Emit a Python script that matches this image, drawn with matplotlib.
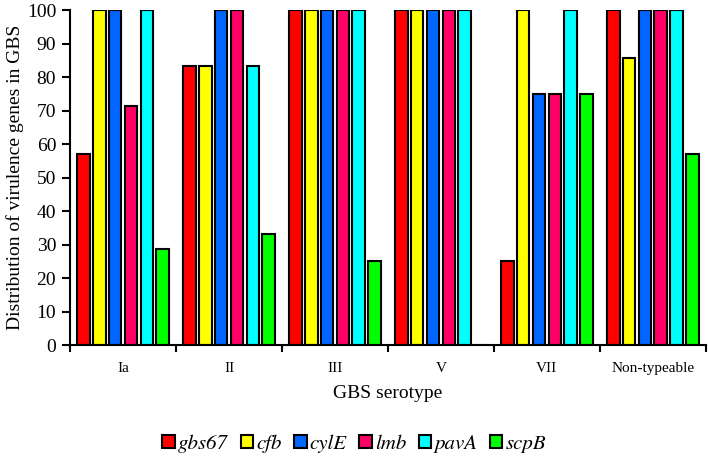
import matplotlib
matplotlib.use('Agg')
import matplotlib.pyplot as plt
import numpy as np

serotypes = ['Ia', 'II', 'III', 'V', 'VII', 'Non-typeable']
genes = ['gbs67', 'cfb', 'cylE', 'lmb', 'pavA', 'scpB']
gbs67 = [57.1, 83.3, 100, 100, 25, 100]
cfb = [100, 83.3, 100, 100, 100, 85.7]
cylE = [100, 100, 100, 100, 75, 100]
lmb = [71.4, 100, 100, 100, 75, 100]
pavA = [100, 83.3, 100, 100, 100, 100]
scpB = [28.6, 33.3, 25, 0, 75, 57.1]
colors = ['#FF0000', '#FFFF00', '#0066FF', '#FF0066', '#00FFFF', '#00FF00']

plt.rcParams['font.family'] = ['Liberation Serif', 'DejaVu Serif']

fig = plt.figure(figsize=(7.08, 4.59), dpi=100)
ax = fig.add_axes([0.099, 0.248, 0.898, 0.73])

x = np.arange(len(serotypes))
pitch = 0.15
w = 0.12
series = [gbs67, cfb, cylE, lmb, pavA, scpB]
for i, (vals, name, c) in enumerate(zip(series, genes, colors)):
    ax.bar(x + (i - 2.5) * pitch, vals, w, color=c, edgecolor='black',
           linewidth=1.5, label=name)

ax.set_xlim(-0.5, len(serotypes) - 0.5)
ax.set_ylim(0, 100)
ax.set_yticks(np.arange(0, 101, 10))
ax.set_xticks(x)
ax.set_xticklabels(serotypes, fontsize=11)
ax.set_xticks(np.arange(-0.5, len(serotypes)), minor=True)
ax.tick_params(axis='x', which='major', length=0, pad=12)
ax.tick_params(axis='x', which='minor', length=5, width=1.5, direction='out')
ax.tick_params(axis='y', labelsize=14, length=6, width=1.5, direction='out', pad=4)
for s in ['top', 'right']:
    ax.spines[s].set_visible(False)
ax.spines['left'].set_linewidth(1.5)
ax.spines['bottom'].set_linewidth(1.5)

ax.set_xlabel('GBS serotype', fontsize=14, labelpad=7)
ax.set_ylabel('Distribution of virulence genes in GBS', fontsize=14, labelpad=2)

# Liberation Serif has no italic here, STIX (bundled) is the Times-like italic
leg = ax.legend(loc='center', bbox_to_anchor=(0.447, -0.293), ncol=6,
                frameon=False, handlelength=0.6, handleheight=0.6,
                handletextpad=0.15, columnspacing=0.6, borderaxespad=0,
                prop={'family': 'STIXGeneral', 'style': 'italic', 'size': 15})

fig.savefig('out.png', dpi=100)
